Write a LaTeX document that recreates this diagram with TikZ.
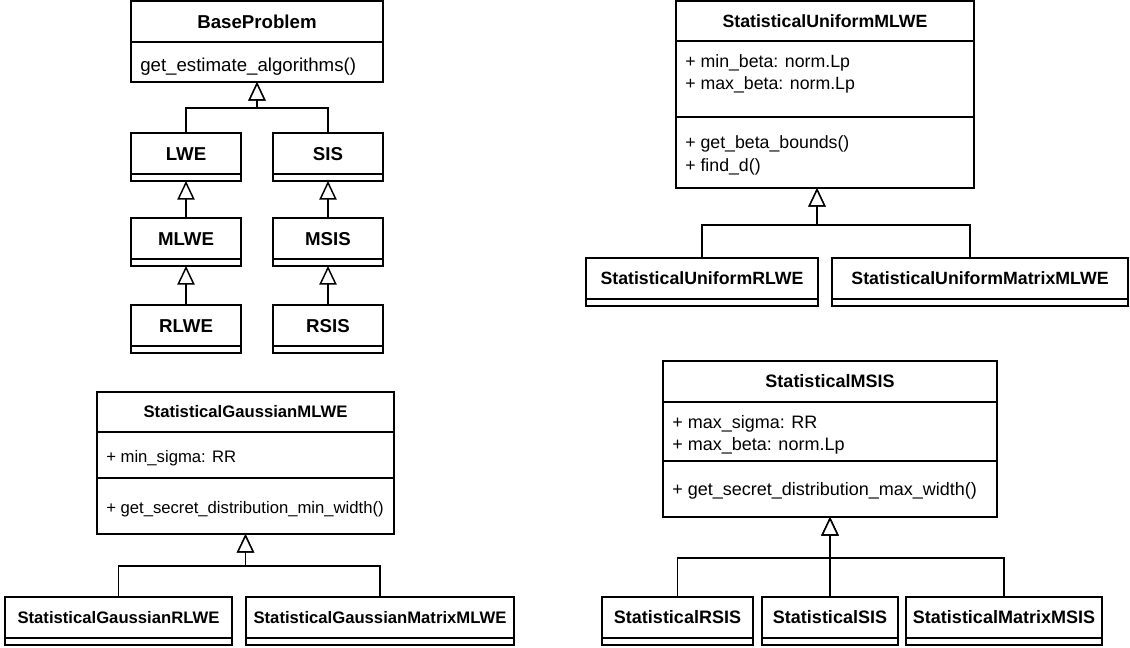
\documentclass[tikz,border=0pt]{standalone}
\usepackage{fontspec}
\setmainfont{Liberation Sans}
\usetikzlibrary{arrows.meta}
\tikzset{
  box/.style={draw, line width=1.1pt, inner sep=0pt, outer sep=0pt, anchor=north west},
  title/.style={box, font=\fontsize{#1}{16.5}\selectfont\bfseries, text height={0.716*#1pt}, text depth=0pt},
  wh/.style 2 args={minimum width=#1*0.75pt, minimum height=#2*0.75pt},
  member/.style={anchor=base west, inner sep=0pt, font=\fontsize{#1}{16.5}\selectfont},
  inh/.style={line width=1.1pt, -{Triangle[open, length=14pt, width=13pt, fill=white]}},
}
\newcommand{\smallcls}[5]{%
  \node[title=#5, wh={#3}{41}] (#1) at (#2) {#4};
  \node[box, wh={#3}{7}] (#1b) at (#1.south west) {};}
\begin{document}
\begin{tikzpicture}[x=0.75pt, y=-0.75pt]
\useasboundingbox (0,0) rectangle (1130,648);

% ---- BaseProblem hierarchy
\node[title=14, wh={252}{41}] (bp) at (131,1) {BaseProblem};
\node[box, wh={252}{40}] (bpM) at (bp.south west) {};
\node[member=14] (bpM1) at (140,72) {get\_estimate\_algorithms()};

\smallcls{lwe}{131,133}{110}{LWE}{14}
\smallcls{sis}{273,133}{110}{SIS}{14}
\smallcls{mlwe}{131,218}{110}{MLWE}{14}
\smallcls{msis}{273,218}{110}{MSIS}{14}
\smallcls{rlwe}{131,305}{110}{RLWE}{14}
\smallcls{rsis}{273,305}{110}{RSIS}{14}

\coordinate (bpJ) at (257,108);
\draw[inh] (lwe.north) |- (bpJ) -- (bpM.south);
\draw[inh] (sis.north) |- (bpJ) -- (bpM.south);
\draw[inh] (mlwe.north) -- (lweb.south);
\draw[inh] (msis.north) -- (sisb.south);
\draw[inh] (rlwe.north) -- (mlweb.south);
\draw[inh] (rsis.north) -- (msisb.south);

% ---- StatisticalGaussianMLWE
\node[title=12.5, wh={297}{40}] (sgm) at (97,392) {StatisticalGaussianMLWE};
\node[box, wh={297}{46}] (sgmA) at (sgm.south west) {};
\node[box, wh={297}{56}] (sgmM) at (sgmA.south west) {};
\node[member=12.5] (sgmA1) at (106,462) {+ min\_sigma: RR};
\node[member=12.5] (sgmM1) at (106,513) {+ get\_secret\_distribution\_min\_width()};
\smallcls{sgr}{5,597}{227}{StatisticalGaussianRLWE}{12.5}
\smallcls{sgmm}{246,597}{268}{StatisticalGaussianMatrixMLWE}{12.5}
\coordinate (sgJ) at (245.5,566);
\draw[inh] (sgr.north) |- (sgJ) -- (sgmM.south);
\draw[inh] (sgmm.north) |- (sgJ) -- (sgmM.south);

% ---- StatisticalUniformMLWE
\node[title=13.3, wh={298}{40}] (sum) at (676,1) {StatisticalUniformMLWE};
\node[box, wh={298}{76}] (sumA) at (sum.south west) {};
\node[box, wh={298}{71}] (sumM) at (sumA.south west) {};
\node[member=13.3] (sumA1) at (685,68) {+ min\_beta: norm.Lp};
\node[member=13.3] (sumA2) at (685,90) {+ max\_beta: norm.Lp};
\node[member=13.3] (sumM1) at (685,149) {+ get\_beta\_bounds()};
\node[member=13.3] (sumM2) at (685,172) {+ find\_d()};
\smallcls{sur}{586,258}{232}{StatisticalUniformRLWE}{13.3}
\smallcls{summ}{832,258}{296}{StatisticalUniformMatrixMLWE}{13.3}
\coordinate (suJ) at (817,225);
\coordinate (summIn) at (970,225);
\draw[inh] (sur.north) |- (suJ) -- (sumM.south -| suJ);
\draw[inh] (summ.north -| summIn) -- (summIn) -- (suJ) -- (sumM.south -| suJ);

% ---- StatisticalMSIS
\node[title=13.5, wh={334}{41}] (sms) at (663,361) {StatisticalMSIS};
\node[box, wh={334}{59}] (smsA) at (sms.south west) {};
\node[box, wh={334}{56}] (smsM) at (smsA.south west) {};
\node[member=13.5] (smsA1) at (672,428) {+ max\_sigma: RR};
\node[member=13.5] (smsA2) at (672,450) {+ max\_beta: norm.Lp};
\node[member=13.5] (smsM1) at (672,495) {+ get\_secret\_distribution\_max\_width()};
\smallcls{srsis}{602,597}{151}{StatisticalRSIS}{13.5}
\smallcls{ssis}{762,597}{136}{StatisticalSIS}{13.5}
\smallcls{smm}{906,597}{196}{StatisticalMatrixMSIS}{13.5}
\coordinate (smJ) at (830,558);
\draw[inh] (srsis.north) |- (smJ) -- (smsM.south);
\draw[inh] (ssis.north) -- (smsM.south);
\draw[inh] (smm.north) |- (smJ) -- (smsM.south);
\end{tikzpicture}
\end{document}
